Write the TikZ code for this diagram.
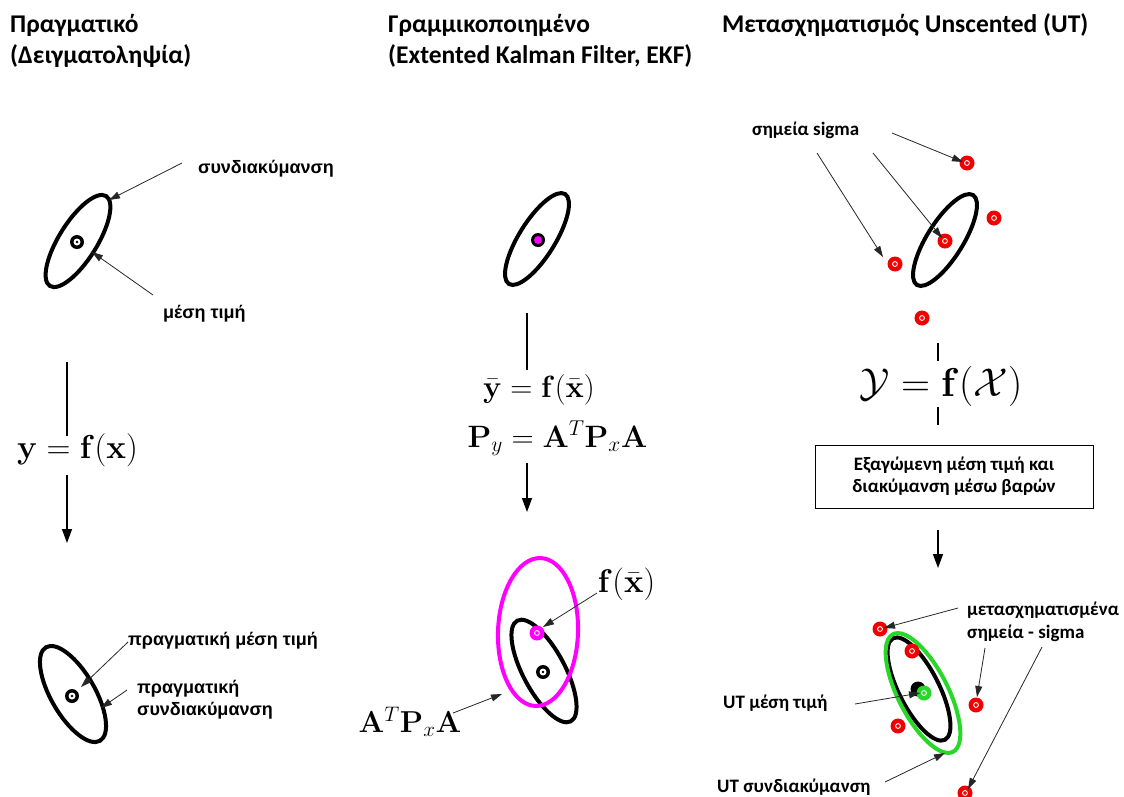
\documentclass[tikz,border=0pt]{standalone}
\usepackage[no-math]{fontspec}
\usepackage{graphicx}
\usetikzlibrary{arrows.meta}
\newfontfamily\carl{Carlito}
\newfontfamily\arl{Liberation Sans}
\definecolor{ptred}{RGB}{240,0,0}
\definecolor{ekfmag}{RGB}{255,0,255}
\definecolor{utgreen}{RGB}{40,215,40}

% mean marker: black ring with a dot in the middle
\newcommand\meanmark[1]{%
  \fill[black] #1 circle (7pt);
  \fill[white] #1 circle (3.5pt);
  \fill[black] #1 circle (1.3pt);}
% coloured point with a small white ring
\newcommand\dotmark[2]{%
  \fill[#1] #2 circle (7.5pt);
  \draw[white, line width=0.9pt] #2 circle (2.4pt);}
% enlarged display formula
\newcommand\bigeq[2]{\scalebox{#1}{$#2$}}

\tikzset{
  hdr/.style={anchor=base west, inner sep=0pt, font=\carl\bfseries\fontsize{25.5}{30}\selectfont},
  lblA/.style={anchor=base west, inner sep=0pt, font=\arl\bfseries\fontsize{18}{22}\selectfont},
  lblC/.style={anchor=base west, inner sep=0pt, font=\carl\bfseries\fontsize{19}{23}\selectfont},
  eqn/.style={anchor=base, inner sep=0pt, font=\fontsize{20}{24}\selectfont},
  ptr/.style={-{Triangle[length=11pt,width=7pt]}, line width=0.8pt, black!85},
  flow/.style={line width=1.4pt},
  flowarr/.style={flow, -{Triangle[length=14pt,width=10pt]}},
  cov/.style={line width=4pt},
}

\begin{document}
\begin{tikzpicture}[x=1pt, y=-1pt]
\useasboundingbox (0,0) rectangle (1124,796);

% ---------- column headers ----------
\node[hdr] (h1a) at (10,32) {Πραγματικό};
\node[hdr] (h1b) at (10,63) {(Δειγματοληψία)};
\node[hdr] (h2a) at (388,32) {Γραμμικοποιημένο};
\node[hdr] (h2b) at (388,63) {(Extented Kalman Filter, EKF)};
\node[hdr] (h3a) at (722,32) {Μετασχηματισμός Unscented (UT)};

% ---------- left column: sampling ----------
\draw[cov, rotate around={58:(78,241)}] (78,241) ellipse [x radius=53pt, y radius=19pt];
\meanmark{(77,242)}
\node[lblA] (covlbl) at (198,173) {συνδιακύμανση};
\node[lblA] (meanlbl) at (163,318) {μέση τιμή};
\coordinate (covT) at (182,163);  \coordinate (covH) at (109,200);
\coordinate (meanT) at (153,295); \coordinate (meanH) at (92,252);
\draw[ptr] (covT) -- (covH);
\draw[ptr] (meanT) -- (meanH);

\coordinate (lTop) at (67,362); \coordinate (lEnd) at (67,436);
\node[eqn] (yfx) at (77.5,458) {\bigeq{1.6}{\mathbf{y} = \mathbf{f}(\mathbf{x})}};
\coordinate (lA1) at (67,475); \coordinate (lA2) at (67,543);
\draw[flow] (lTop) -- (lEnd);
\draw[flowarr] (lA1) -- (lA2);

\draw[cov, rotate around={-60:(73,694)}] (73,694) ellipse [x radius=54pt, y radius=22pt];
\meanmark{(72,696)}
\node[lblA] (tmeanlbl) at (128,645) {πραγματική μέση τιμή};
\node[lblA] (tcov1) at (137,693) {πραγματική};
\node[lblA] (tcov2) at (137,715) {συνδιακύμανση};
\coordinate (tmT) at (128,642); \coordinate (tmH) at (81,687);
\coordinate (tcT) at (127,690); \coordinate (tcH) at (101,708);
\draw[ptr] (tmT) -- (tmH);
\draw[ptr] (tcT) -- (tcH);

% ---------- middle column: linearisation ----------
\draw[cov, rotate around={58:(537,239)}] (537,239) ellipse [x radius=53pt, y radius=18pt];
\fill[black] (538,240) circle (7pt);
\fill[ekfmag] (538,240) circle (4pt);

\coordinate (mTop) at (527,313);
\node[eqn] (ybar) at (539,397) {\bigeq{1.48}{\bar{\mathbf{y}} = \mathbf{f}(\bar{\mathbf{x}})}};
\node[eqn] (Py) at (557.5,447) {\bigeq{1.49}{\mathbf{P}_y = \mathbf{A}^T\mathbf{P}_x\mathbf{A}}};
\coordinate (mEnd) at (527,370);
\coordinate (mA1) at (527,463); \coordinate (mA2) at (527,512);
\draw[flow] (mTop) -- (mEnd);
\draw[flowarr] (mA1) -- (mA2);

\draw[cov, rotate around={-62:(544,671)}] (544,671) ellipse [x radius=57pt, y radius=21pt];
\draw[cov, ekfmag, rotate around={-2:(538,632)}] (538,632) ellipse [x radius=40pt, y radius=74pt];
\meanmark{(543,672)}
\dotmark{ekfmag}{(537,633)}
\node[eqn] (fx) at (626.5,592) {\bigeq{1.58}{\mathbf{f}(\bar{\mathbf{x}})}};
\node[eqn] (ATPA) at (410,732) {\bigeq{1.46}{\mathbf{A}^T\mathbf{P}_x\mathbf{A}}};
\coordinate (fxT) at (597,593);  \coordinate (fxH) at (543,627);
\coordinate (apT) at (453,713);  \coordinate (apH) at (502,694);
\draw[ptr] (fxT) -- (fxH);
\draw[ptr] (apT) -- (apH);

% ---------- right column: unscented transform ----------
\draw[cov, rotate around={58:(945,240)}] (945,240) ellipse [x radius=53pt, y radius=18pt];
\dotmark{ptred}{(967,163)}
\dotmark{ptred}{(994,218)}
\dotmark{ptred}{(945,241)}
\dotmark{ptred}{(895,264)}
\dotmark{ptred}{(922,318)}
\node[lblC] (siglbl) at (752,135) {σημεία sigma};
\coordinate (s1T) at (892,133); \coordinate (s1H) at (963,162);
\coordinate (s2T) at (873,153); \coordinate (s2H) at (942,238);
\coordinate (s3T) at (817,153); \coordinate (s3H) at (883,257);
\draw[ptr] (s1T) -- (s1H);
\draw[ptr] (s2T) -- (s2H);
\draw[ptr] (s3T) -- (s3H);

\coordinate (rTop) at (938,343); \coordinate (rMid1) at (938,361);
\coordinate (rMid2) at (938,407); \coordinate (rBot) at (938,425);
\draw[flow] (rTop) -- (rMid1);
\draw[flow] (rMid2) -- (rBot);
\node[eqn] (Yfx) at (941,396) {\bigeq{1.94}{\mathcal{Y} = \mathbf{f}(\mathcal{X})}};

\node[draw, line width=0.8pt, minimum width=278pt, minimum height=63pt, inner sep=0pt,
      align=center, font=\carl\bfseries\fontsize{19}{22}\selectfont] (wbox) at (954,476.5)
  {Εξαγώμενη μέση τιμή και\\διακύμανση μέσω βαρών};
\coordinate (rA1) at (938,530); \coordinate (rA2) at (938,568);
\draw[flowarr] (rA1) -- (rA2);

\draw[cov, rotate around={-63:(919,689)}] (919,689) ellipse [x radius=57pt, y radius=20pt];
\draw[cov, utgreen, rotate around={-63:(923,693)}] (923,693) ellipse [x radius=66pt, y radius=25pt];
\fill[black] (918,689) circle (7.5pt);
\dotmark{utgreen}{(924,693)}
\dotmark{ptred}{(880,629)}
\dotmark{ptred}{(912,651)}
\dotmark{ptred}{(976,705)}
\dotmark{ptred}{(898,726)}
\dotmark{ptred}{(965,793)}
\node[lblC] (tsig1) at (967,615) {μετασχηματισμένα};
\node[lblC] (tsig2) at (967,638) {σημεία - sigma};
\node[lblC] (utmean) at (723,708) {UT μέση τιμή};
\node[lblC] (utcov) at (717,792) {UT συνδιακύμανση};
\coordinate (t1T) at (958,608);  \coordinate (t1H) at (884,628);
\coordinate (t2T) at (985,648);  \coordinate (t2H) at (977,697);
\coordinate (t3T) at (1042,647); \coordinate (t3H) at (968,789);
\coordinate (umT) at (855,704);  \coordinate (umH) at (920,693);
\coordinate (ucT) at (885,782);  \coordinate (ucH) at (945,753);
\draw[ptr] (t1T) -- (t1H);
\draw[ptr] (t2T) -- (t2H);
\draw[ptr] (t3T) -- (t3H);
\draw[ptr] (umT) -- (umH);
\draw[ptr] (ucT) -- (ucH);
\end{tikzpicture}
\end{document}
